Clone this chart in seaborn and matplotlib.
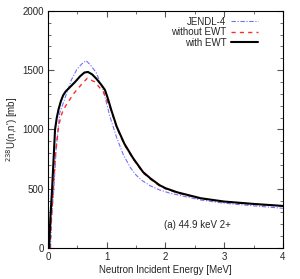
import pandas as pd
import seaborn as sns
import numpy as np
import matplotlib.pyplot as plt
from matplotlib.ticker import MultipleLocator

# Values
energy_jendl = [0.045, 0.06, 0.1, 0.14, 0.2, 0.28, 0.32, 0.4, 0.49, 0.57, 0.65, 0.72, 0.82, 0.94, 1.055, 1.17, 1.28, 1.4, 1.5, 1.6, 1.74, 1.9, 2.08, 2.42, 2.6, 3.0, 3.5, 4.0]
xs_jendl = [0, 260, 500, 850, 1140, 1250, 1310, 1420, 1505, 1550, 1580, 1545, 1480, 1333, 1108, 930, 790, 680, 615, 570, 525, 490, 462, 425, 405, 378, 356, 335]

energy_noewt = [0.03, 0.06, 0.09, 0.13, 0.18, 0.22, 0.26, 0.34, 0.45, 0.57, 0.67, 0.79, 0.94, 1.06, 1.17, 1.3, 1.45, 1.62, 1.75, 1.9, 2.0, 2.2, 2.4, 2.6, 3.0, 3.5, 4.0]
xs_noewt = [0, 250, 500, 800, 1024, 1110, 1165, 1230, 1310, 1380, 1432, 1403, 1319, 1180, 1015, 872, 750, 633, 578, 524, 499, 465, 440, 416, 389, 370, 353]

energy_ewt = [0.02, 0.04, 0.07, 0.1, 0.12, 0.15, 0.18, 0.22, 0.26, 0.3, 0.36, 0.46, 0.55, 0.62, 0.68, 0.75, 0.82, 0.91, 0.97, 1.02, 1.08, 1.17, 1.3, 1.45, 1.62, 1.75, 1.9, 2.0, 2.2, 2.4, 2.6, 3.0, 3.5, 4.0]
xs_ewt = [0, 250, 500, 800, 1000, 1100, 1170, 1240, 1290, 1320, 1350, 1400, 1450, 1480, 1485, 1465, 1430, 1375, 1333, 1260, 1160, 1024, 880, 757, 640, 585, 530, 505, 470, 445, 420, 392, 372, 355]

sns.set_style("ticks")
plt.rcParams['font.family'] = ['Liberation Sans', 'DejaVu Sans']

fig = plt.figure(figsize=(3.0, 2.79), dpi=100)
ax = fig.add_axes([0.16, 0.111, 0.783, 0.85])

sns.lineplot(x=energy_jendl, y=xs_jendl, ax=ax, color='#7070ff', lw=0.8,
             linestyle=(0, (4, 1.5, 1, 1.5)), label='JENDL-4')
sns.lineplot(x=energy_noewt, y=xs_noewt, ax=ax, color='#ff2a2a', lw=1.0,
             linestyle=(0, (3, 3)), label='without EWT')
sns.lineplot(x=energy_ewt, y=xs_ewt, ax=ax, color='black', lw=1.5,
             label='with EWT')

ax.set_xlim(0, 4)
ax.set_ylim(0, 2000)
ax.xaxis.set_major_locator(MultipleLocator(1))
ax.xaxis.set_minor_locator(MultipleLocator(0.5))
ax.yaxis.set_major_locator(MultipleLocator(500))
ax.yaxis.set_minor_locator(MultipleLocator(100))
ax.tick_params(which='both', direction='in', top=True, right=True, labelsize=7,
               color='#555555', pad=3)
ax.tick_params(which='major', length=4)
ax.tick_params(which='minor', length=2)
for s in ax.spines.values():
    s.set_color('black')
    s.set_linewidth(0.8)

ax.set_xlabel('Neutron Incident Energy [MeV]', fontsize=7, labelpad=2)
ax.set_ylabel("$^{238}$U(n,n') [mb]", fontsize=7, labelpad=2)
ax.text(2.55, 194, '(a) 44.9 keV 2+', fontsize=7, ha='center', va='center')

ax.legend(loc='upper right', bbox_to_anchor=(0.92, 1.0), frameon=False, fontsize=7,
          markerfirst=False, handlelength=2.8, labelspacing=0.05,
          borderaxespad=0.2, handletextpad=0.5)

fig.savefig('out.png', dpi=100)
